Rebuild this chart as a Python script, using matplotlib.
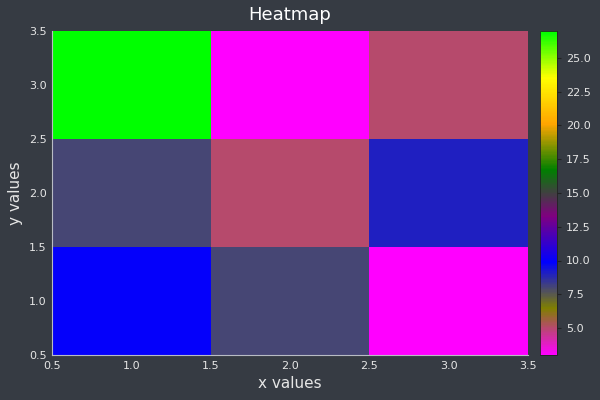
import numpy as np
import matplotlib
matplotlib.use("Agg")
import matplotlib.pyplot as plt
from matplotlib.colors import LinearSegmentedColormap

# data: rows are y = 1, 2, 3; columns are x = 1, 2, 3
x_vals = [1, 2, 3]
y_vals = [1, 2, 3]
z_row1 = [10, 8, 3]
z_row2 = [8, 5, 9]
z_row3 = [27, 3, 5]

bg = "#363b43"
fg = "#e6e6e6"

cmap = LinearSegmentedColormap.from_list(
    "custom",
    ["#ff00ff", "#808000", "#0000ff", "#800080",
     "#008000", "#ffa500", "#ffff00", "#00ff00"],
    N=256,
)

z = np.array([z_row1, z_row2, z_row3])

fig = plt.figure(figsize=(6, 4), dpi=100, facecolor=bg)
ax = fig.add_axes([0.0867, 0.1125, 0.7933, 0.81])
cax = fig.add_axes([0.900, 0.1125, 0.028, 0.81])
ax.set_facecolor(bg)

mesh = ax.pcolormesh(x_vals, y_vals, z, cmap=cmap, shading="nearest",
                     vmin=z.min(), vmax=z.max())
ax.set_xlim(0.5, 3.5)
ax.set_ylim(0.5, 3.5)
ticks = np.arange(0.5, 3.51, 0.5)
ax.set_xticks(ticks)
ax.set_yticks(ticks)
ax.set_xticklabels([f"{t:.1f}" for t in ticks])
ax.set_yticklabels([f"{t:.1f}" for t in ticks])
ax.tick_params(colors=fg, labelsize=8, length=0, pad=4)
for side in ["top", "right"]:
    ax.spines[side].set_visible(False)
for side in ["left", "bottom"]:
    ax.spines[side].set_color("#b8bcc4")
    ax.spines[side].set_linewidth(0.8)

ax.set_title("Heatmap", color="white", fontsize=13, pad=8)
ax.set_xlabel("x values", color=fg, fontsize=11, labelpad=4)
ax.set_ylabel("y values", color=fg, fontsize=11, labelpad=4)

cb_ticks = [5, 7.5, 10, 12.5, 15, 17.5, 20, 22.5, 25]
cb = fig.colorbar(mesh, cax=cax)
cb.set_ticks(cb_ticks)
cb.set_ticklabels([f"{t:.1f}" for t in cb_ticks])
cb.ax.tick_params(colors="#222222", labelcolor=fg, labelsize=8, length=3, width=0.8)
cb.outline.set_edgecolor("#222222")
cb.outline.set_linewidth(0.6)

fig.savefig("out.png", dpi=100, facecolor=bg)
